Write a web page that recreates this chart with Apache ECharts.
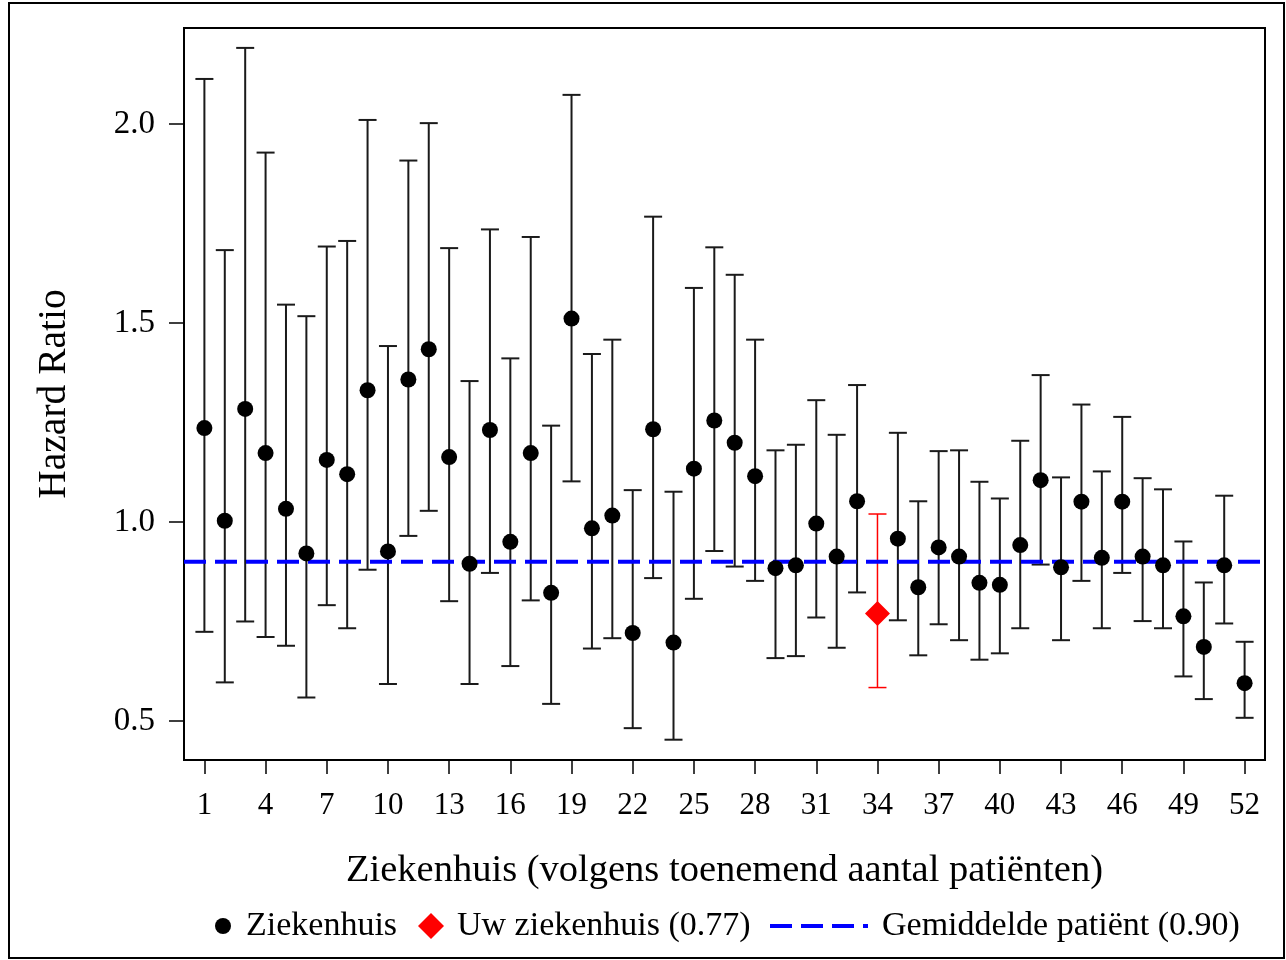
<!DOCTYPE html>
<html>
<head>
<meta charset="utf-8">
<title>Hazard Ratio per ziekenhuis</title>
<script src="https://cdn.jsdelivr.net/npm/echarts@6/dist/echarts.min.js"></script>
<style>
  html, body { margin: 0; padding: 0; background: #fff; }
  #chart { width: 1286px; height: 960px; }
</style>
</head>
<body>
<div id="chart"></div>
<script>
// Hospitals ordered by increasing number of patients
const hospitals = Array.from({ length: 52 }, (_, i) => i + 1);

// Hazard ratio per hospital
const hazardRatio = [
  1.236, 1.003, 1.284, 1.173, 1.033, 0.921, 1.156, 1.120, 1.331, 0.926,
  1.358, 1.434, 1.163, 0.895, 1.231, 0.950, 1.173, 0.822, 1.511, 0.984,
  1.016, 0.721, 1.233, 0.697, 1.134, 1.255, 1.199, 1.115, 0.884, 0.891,
  0.996, 0.913, 1.052, 0.770, 0.958, 0.836, 0.936, 0.913, 0.847, 0.842,
  0.942, 1.105, 0.886, 1.051, 0.910, 1.051, 0.913, 0.891, 0.763, 0.686,
  0.891, 0.595
];

// Lower bound of the confidence interval
const ciLower = [
  0.724, 0.597, 0.750, 0.711, 0.689, 0.559, 0.791, 0.733, 0.880, 0.593,
  0.965, 1.028, 0.801, 0.593, 0.872, 0.638, 0.803, 0.543, 1.102, 0.682,
  0.708, 0.482, 0.859, 0.453, 0.807, 0.927, 0.888, 0.852, 0.658, 0.663,
  0.760, 0.684, 0.823, 0.584, 0.753, 0.665, 0.743, 0.703, 0.654, 0.670,
  0.733, 0.893, 0.703, 0.852, 0.733, 0.872, 0.751, 0.733, 0.612, 0.555,
  0.745, 0.508
];

// Upper bound of the confidence interval
const ciUpper = [
  2.113, 1.683, 2.191, 1.928, 1.546, 1.517, 1.692, 1.706, 2.010, 1.442,
  1.908, 2.002, 1.688, 1.354, 1.735, 1.411, 1.716, 1.242, 2.073, 1.422,
  1.458, 1.080, 1.767, 1.076, 1.588, 1.690, 1.621, 1.458, 1.180, 1.194,
  1.306, 1.219, 1.344, 1.020, 1.224, 1.052, 1.178, 1.180, 1.101, 1.059,
  1.204, 1.369, 1.112, 1.295, 1.127, 1.264, 1.110, 1.082, 0.951, 0.848,
  1.066, 0.699
];

const ownHospital = 34;       // "Uw ziekenhuis"
const meanHR = 0.90;          // average patient

const xTicks = [1, 4, 7, 10, 13, 16, 19, 22, 25, 28, 31, 34, 37, 40, 43, 46, 49, 52];
const yTicks = [0.5, 1.0, 1.5, 2.0];

const FONT = '"Liberation Serif", "Times New Roman", serif';

const ownIdx = hospitals.indexOf(ownHospital);
const ownName = 'Uw ziekenhuis (' + hazardRatio[ownIdx].toFixed(2) + ')';
const meanName = 'Gemiddelde patiënt (' + meanHR.toFixed(2) + ')';

const otherPoints = [];
const otherBars = [];
hospitals.forEach((h, i) => {
  if (h === ownHospital) return;
  otherPoints.push([h, hazardRatio[i]]);
  otherBars.push([h, ciLower[i], ciUpper[i]]);
});
const ownPoint = [[ownHospital, hazardRatio[ownIdx]]];
const ownBar = [[ownHospital, ciLower[ownIdx], ciUpper[ownIdx]]];

function errorBar(color, width) {
  return function (params, api) {
    const x = api.value(0);
    const lo = api.coord([x, api.value(1)]);
    const hi = api.coord([x, api.value(2)]);
    const half = 9;
    const style = { stroke: color, lineWidth: width };
    return {
      type: 'group',
      children: [
        { type: 'line', shape: { x1: lo[0], y1: lo[1], x2: hi[0], y2: hi[1] }, style },
        { type: 'line', shape: { x1: lo[0] - half, y1: lo[1], x2: lo[0] + half, y2: lo[1] }, style },
        { type: 'line', shape: { x1: hi[0] - half, y1: hi[1], x2: hi[0] + half, y2: hi[1] }, style }
      ]
    };
  };
}

function legendText(padLeft) {
  return { fontFamily: FONT, fontSize: 34, color: '#000', padding: [0, 0, 0, padLeft] };
}

const chart = echarts.init(document.getElementById('chart'), null, { renderer: 'canvas' });
chart.setOption({
  animation: false,
  backgroundColor: '#fff',
  graphic: [{
    type: 'rect',
    shape: { x: 9, y: 3, width: 1275, height: 955 },
    style: { fill: 'none', stroke: '#000', lineWidth: 2 },
    silent: true
  }],
  grid: {
    left: 184, top: 28, width: 1081, height: 732,
    show: true, borderColor: '#000', borderWidth: 2, backgroundColor: 'transparent'
  },
  legend: [
    {
      data: ['Ziekenhuis'], left: 215, top: 909, padding: 0,
      itemWidth: 16, itemHeight: 16, textStyle: legendText(10)
    },
    {
      data: [ownName], left: 418, top: 909, padding: 0,
      itemWidth: 26, itemHeight: 26, textStyle: legendText(8)
    },
    {
      data: [meanName], left: 768, top: 909, padding: 0,
      itemWidth: 98, itemHeight: 26, textStyle: legendText(9),
      itemStyle: { color: 'transparent', borderWidth: 0, opacity: 0 },
      lineStyle: { width: 4, type: [22, 9], color: '#0000ff' }
    }
  ],
  xAxis: {
    type: 'value', min: 0, max: 53,
    name: 'Ziekenhuis (volgens toenemend aantal patiënten)',
    nameLocation: 'middle', nameGap: 91,
    nameTextStyle: { fontFamily: FONT, fontSize: 38.5, color: '#000' },
    axisLine: { onZero: false, lineStyle: { color: '#000', width: 2 } },
    axisTick: { show: true, length: 14, customValues: xTicks, lineStyle: { color: '#000', width: 1.5 } },
    axisLabel: { customValues: xTicks, margin: 30, fontFamily: FONT, fontSize: 31, color: '#000' },
    splitLine: { show: false }
  },
  yAxis: {
    type: 'value', min: 0.402, max: 2.241,
    name: 'Hazard Ratio',
    nameLocation: 'middle', nameGap: 109,
    nameTextStyle: { fontFamily: FONT, fontSize: 39.5, color: '#000' },
    axisLine: { show: true, lineStyle: { color: '#000', width: 2 } },
    axisTick: { show: true, length: 15, customValues: yTicks, lineStyle: { color: '#000', width: 1.5 } },
    axisLabel: {
      customValues: yTicks, margin: 29, fontFamily: FONT, fontSize: 33, color: '#000',
      formatter: v => v.toFixed(1)
    },
    splitLine: { show: false }
  },
  series: [
    {
      name: 'ciOther', type: 'custom', renderItem: errorBar('#1a1a1a', 2),
      data: otherBars, encode: { x: 0, y: [1, 2] }, z: 2, silent: true
    },
    {
      name: 'ciOwn', type: 'custom', renderItem: errorBar('#ff0000', 1.5),
      data: ownBar, encode: { x: 0, y: [1, 2] }, z: 2, silent: true
    },
    {
      name: meanName, type: 'line', symbol: 'none',
      data: [[0, meanHR], [53, meanHR]],
      lineStyle: { color: '#0000ff', width: 4, type: [22, 9] },
      itemStyle: { color: '#0000ff' },
      z: 3, silent: true
    },
    {
      name: 'Ziekenhuis', type: 'scatter', symbol: 'circle', symbolSize: 16,
      data: otherPoints, itemStyle: { color: '#000', opacity: 1 }, z: 4
    },
    {
      name: ownName, type: 'scatter', symbol: 'diamond', symbolSize: [25, 25],
      data: ownPoint, itemStyle: { color: '#ff0000', opacity: 1 }, z: 5
    }
  ]
});
</script>
</body>
</html>
